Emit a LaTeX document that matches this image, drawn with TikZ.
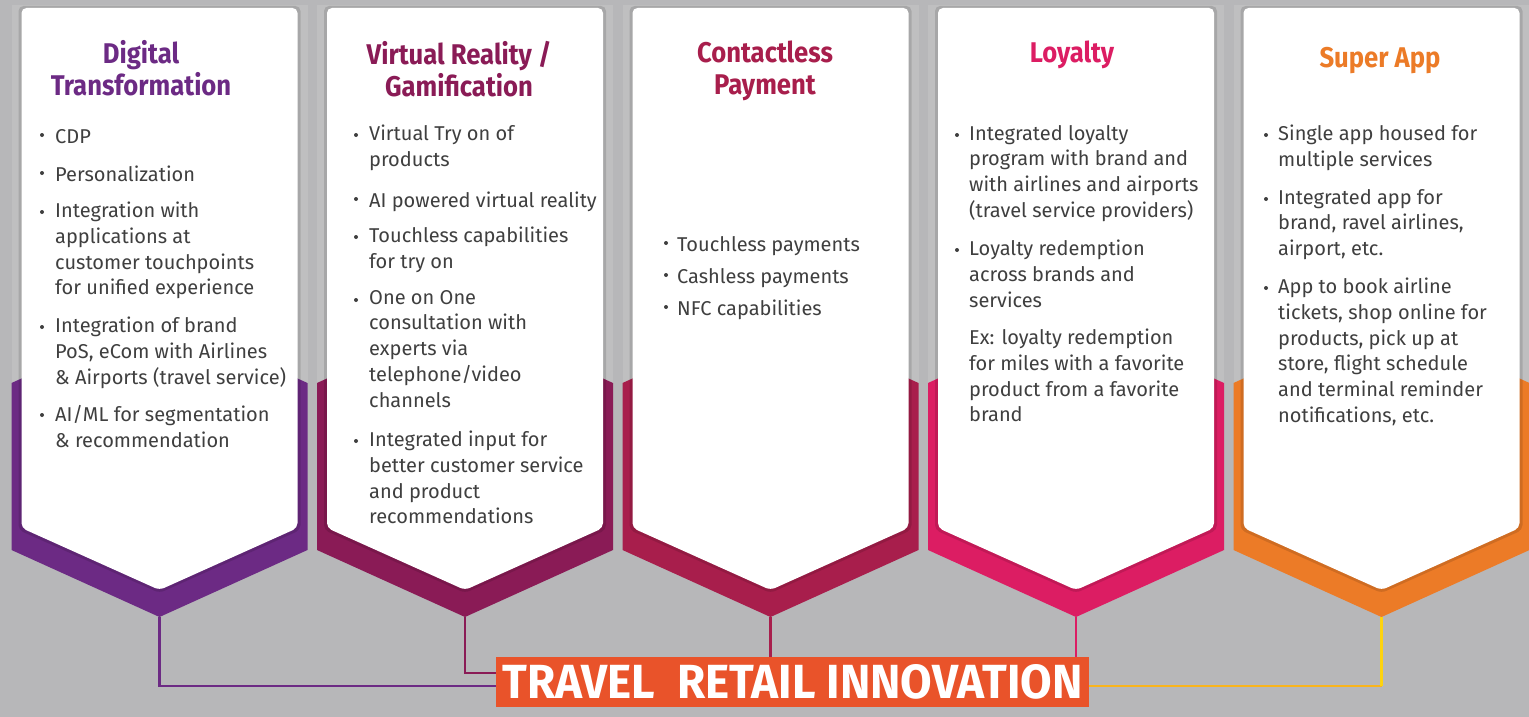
\documentclass[tikz,border=0pt]{standalone}
\usepackage{fontspec}
\usepackage{graphicx}
\setmainfont{Fira Sans}
\newfontfamily\bodyfont{Fira Sans}
\newfontfamily\headfont{Fira Sans}[FakeStretch=0.9]
\definecolor{bggray}{HTML}{B7B7B9}
\definecolor{colgray}{HTML}{BFBFC0}
\definecolor{textgray}{HTML}{3F3F3F}
\definecolor{cpurple}{HTML}{6C2A84}
\definecolor{cmaroon}{HTML}{8A1B56}
\definecolor{ccrimson}{HTML}{A81E4C}
\definecolor{cpink}{HTML}{DC1D63}
\definecolor{corange}{HTML}{EC7B27}
\definecolor{cbanner}{HTML}{E9532A}
\definecolor{cgold}{HTML}{F9B41C}
\definecolor{cyellow}{HTML}{FDD30F}

\begin{document}
\begin{tikzpicture}[x=1pt,y=-1pt]

  % top of each text = first baseline minus strut height
  \tikzstyle{heading}=[anchor=north, align=center, inner sep=0pt, execute at begin node=\strut, font=\headfont\bfseries\fontsize{28.5}{32}\selectfont]

  \tikzstyle{point}=[anchor=north west, align=left, inner sep=0pt, text=textgray, execute at begin node=\strut, font=\bodyfont\fontsize{20}{25.7}\selectfont]

  \tikzstyle{dot}=[circle, fill=textgray, inner sep=0pt, minimum size=4pt]

  \tikzstyle{link}=[line width=2.2pt]

%% background
\fill[bggray] (0,0) rectangle (1529,717);
\useasboundingbox (0,0) rectangle (1529,717);

%% columns: backdrop, coloured chevron, white card
\foreach \cx/\col [count=\i] in {159.5/cpurple, 465/cmaroon, 770.5/ccrimson, 1076/cpink, 1381.5/corange}{
  \fill[colgray] (\cx-148,5) rectangle (\cx+148,390);
  \fill[\col] (\cx-148,383) -- (\cx,316) -- (\cx+148,383) -- (\cx+148,550) -- (\cx,617) -- (\cx-148,550) -- cycle;
  \fill[black, opacity=0.12, rounded corners=5pt] (\cx-141,6) -- (\cx+141,6) -- (\cx+141,530) -- (\cx,593) -- (\cx-141,530) -- cycle;
  \fill[white, rounded corners=5pt] (\cx-138,8) -- (\cx+138,8) -- (\cx+138,528) -- (\cx,590) -- (\cx-138,528) -- cycle;
  \coordinate (tip\i) at (\cx,617);
}

%% headings (baseline - 22.4)
\node[heading, text=cpurple] (t1) at (141,40.6) {Digital\\Transformation};
\node[heading, text=cmaroon] (t2) at (459,40.6) {Virtual Reality /\\Gamification};
\node[heading, text=ccrimson] (t3) at (765,40.6) {Contactless\\Payment};
\node[heading, text=cpink] (t4) at (1072,39.6) {Loyalty};
\node[heading, text=corange] (t5) at (1380,44.6) {Super App};

%% column 1 (text top = baseline - 18)
\node[dot] (d11) at (42,135) {};
\node[point] (p11) at (55,125) {CDP};
\node[dot] (d12) at (42,173) {};
\node[point] (p12) at (55,163) {Personalization};
\node[dot] (d13) at (42,212) {};
\node[point] (p13) at (55,202) {Integration with\\applications at\\customer touchpoints\\for unified experience};
\node[dot] (d14) at (42,327) {};
\node[point] (p14) at (55,317) {Integration of brand\\PoS, eCom with Airlines\\\& Airports (travel service)};
\node[dot] (d15) at (42,415) {};
\node[point] (p15) at (55,405) {AI/ML for segmentation\\\& recommendation};

%% column 2
\node[dot] (d21) at (356,135) {};
\node[point] (p21) at (369,125) {Virtual Try on of\\products};
\node[dot] (d22) at (356,199) {};
\node[point] (p22) at (369,189) {AI powered virtual reality};
\node[dot] (d23) at (356,237) {};
\node[point] (p23) at (369,227) {Touchless capabilities\\for try on};
\node[dot] (d24) at (356,300) {};
\node[point] (p24) at (369,290) {One on One\\consultation with\\experts via\\telephone/video\\channels};
\node[dot] (d25) at (356,441) {};
\node[point] (p25) at (369,431) {Integrated input for\\better customer service\\and product\\recommendations};

%% column 3
\node[dot] (d31) at (666,243) {};
\node[point] (p31) at (677,233) {Touchless payments};
\node[dot] (d32) at (666,275) {};
\node[point] (p32) at (677,265) {Cashless payments};
\node[dot] (d33) at (666,307) {};
\node[point] (p33) at (677,297) {NFC capabilities};

%% column 4
\node[dot] (d41) at (957,135) {};
\node[point] (p41) at (969,125) {Integrated loyalty\\program with brand and\\with airlines and airports\\(travel service providers)};
\node[dot] (d42) at (957,250) {};
\node[point] (p42) at (969,240) {Loyalty redemption\\across brands and\\services};
\node[point] (p43) at (969,329) {Ex: loyalty redemption\\for miles with a favorite\\product from a favorite\\brand};

%% column 5
\node[dot] (d51) at (1266,135) {};
\node[point] (p51) at (1278,125) {Single app housed for\\multiple services};
\node[dot] (d52) at (1266,199) {};
\node[point] (p52) at (1278,189) {Integrated app for\\brand, ravel airlines,\\airport, etc.};
\node[dot] (d53) at (1266,288) {};
\node[point] (p53) at (1278,278) {App to book airline\\tickets, shop online for\\products, pick up at\\store, flight schedule\\and terminal reminder\\notifications, etc.};

%% banner
\node[fill=cbanner, minimum width=593pt, minimum height=50pt, inner sep=0pt, text=white] (banner) at (792.5,682)
  {\resizebox{580pt}{34pt}{\headfont\bfseries TRAVEL\ \ RETAIL INNOVATION}};

%% connectors
\path ([yshift=-4pt]banner.east) coordinate (b5);
\coordinate (k5) at (b5 -| tip5);

\draw[link, cpurple] (tip1) |- ([yshift=-4pt]banner.west);
\draw[link, cmaroon] (tip2) |- ([yshift=9pt]banner.west);
\draw[link, ccrimson] (tip3) -- (tip3 |- banner.north);
\draw[link, cpink] (tip4) -- (tip4 |- banner.north);
\draw[link, cgold] (b5) -- (k5);
\draw[link, cyellow] (k5) -- (tip5);

\end{tikzpicture}
\end{document}
